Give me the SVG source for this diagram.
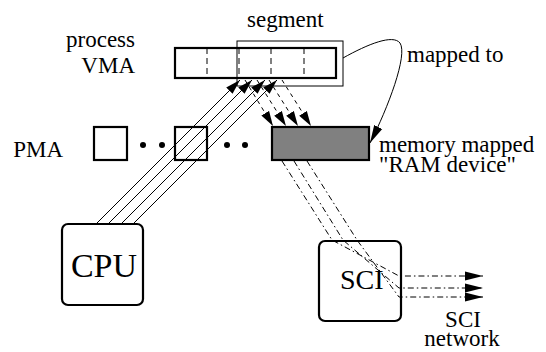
<svg xmlns="http://www.w3.org/2000/svg" width="546" height="352" viewBox="0 0 546 352">
<style>
.lbl{font-size:23px}
.thick{fill:none;stroke:#000;stroke-width:2.2}
.thin{fill:none;stroke:#000;stroke-width:1}
.div{stroke:#000;stroke-width:1;stroke-dasharray:6 4}
.sol{stroke:#000;stroke-width:1;fill:none}
.dash{stroke:#000;stroke-width:1;fill:none;stroke-dasharray:4 4}
.dd{stroke:#000;stroke-width:1;fill:none;stroke-dasharray:6 3 1.5 3}
</style>
<defs>
<marker id="ah" markerUnits="userSpaceOnUse" markerWidth="16" markerHeight="10" refX="15" refY="5" orient="auto">
<path d="M0,0.5 L15,5 L0,9.5 z" fill="#000"/>
</marker>
<marker id="ah2" markerUnits="userSpaceOnUse" markerWidth="19" markerHeight="10" refX="18" refY="5" orient="auto">
<path d="M0,0.5 L18,5 L0,9.5 z" fill="#000"/>
</marker>
</defs>
<g font-family="Liberation Serif, DejaVu Serif, serif" fill="#000">
<g id="label-segment"><text class="lbl" x="247" y="27">segment</text></g>
<g id="label-process-vma">
<text class="lbl" x="135" y="47" text-anchor="end">process</text>
<text class="lbl" x="135" y="73" text-anchor="end">VMA</text>
</g>
<g id="vma">
<rect class="thick" x="175" y="48" width="161" height="30"/>
<line class="div" x1="207" y1="48" x2="207" y2="78"/>
<line class="div" x1="239" y1="48" x2="239" y2="78"/>
<line class="div" x1="271" y1="48" x2="271" y2="78"/>
<line class="div" x1="304" y1="48" x2="304" y2="78"/>
</g>
<g id="segment"><rect class="thin" x="237" y="41" width="106" height="45"/></g>

<g id="label-pma"><text class="lbl" x="63" y="157" text-anchor="end">PMA</text></g>
<g id="pma">
<rect class="thick" x="94" y="127" width="33" height="33"/>
<circle cx="143" cy="145" r="3"/>
<circle cx="162" cy="145" r="3"/>
<rect class="thick" x="175" y="127" width="32" height="33"/>
<circle cx="227" cy="145" r="3"/>
<circle cx="245" cy="145" r="3"/>
</g>
<g id="ram-device">
<rect x="272" y="127" width="97" height="33" fill="#808080" stroke="#000" stroke-width="2.2"/>
</g>
<g id="label-ram">
<text class="lbl" x="379" y="152">memory mapped</text>
<text class="lbl" x="379" y="172">"RAM device"</text>
</g>
<g id="label-mapped"><text class="lbl" x="407" y="62">mapped to</text></g>

<g id="cpu">
<rect class="thick" x="62" y="224" width="81" height="81" rx="6"/>
<text x="104" y="277" font-size="34" text-anchor="middle">CPU</text>
</g>
<g id="sci">
<rect class="thick" x="319" y="241" width="82" height="80" rx="6"/>
<text x="340" y="289" font-size="28">SCI</text>
</g>
<g id="label-network">
<text class="lbl" x="463" y="327" text-anchor="middle">SCI</text>
<text class="lbl" x="462" y="346" text-anchor="middle">network</text>
</g>
</g>
<g id="connectors">
<line class="sol" x1="96" y1="224" x2="240" y2="80" marker-end="url(#ah)"/>
<line class="sol" x1="108" y1="224" x2="252" y2="80" marker-end="url(#ah)"/>
<line class="sol" x1="121" y1="224" x2="265" y2="80" marker-end="url(#ah)"/>
<line class="sol" x1="133" y1="224" x2="277" y2="80" marker-end="url(#ah)"/>

<line class="dash" x1="245" y1="80" x2="273" y2="126" marker-end="url(#ah)"/>
<line class="dash" x1="257" y1="80" x2="286" y2="126" marker-end="url(#ah)"/>
<line class="dash" x1="269" y1="80" x2="298" y2="126" marker-end="url(#ah)"/>
<line class="dash" x1="282" y1="80" x2="311" y2="126" marker-end="url(#ah)"/>

<path class="sol" d="M343,58 C368,44 393,34 400,43 C408,55 388,108 370,143" marker-end="url(#ah2)"/>

<polyline class="dd" points="282,161 332,240 399,276 483,276" marker-end="url(#ah2)"/>
<polyline class="dd" points="294,161 343,240 399,288 483,288" marker-end="url(#ah2)"/>
<polyline class="dd" points="307,161 357,240 399,297 483,297" marker-end="url(#ah2)"/>
</g>
</svg>
